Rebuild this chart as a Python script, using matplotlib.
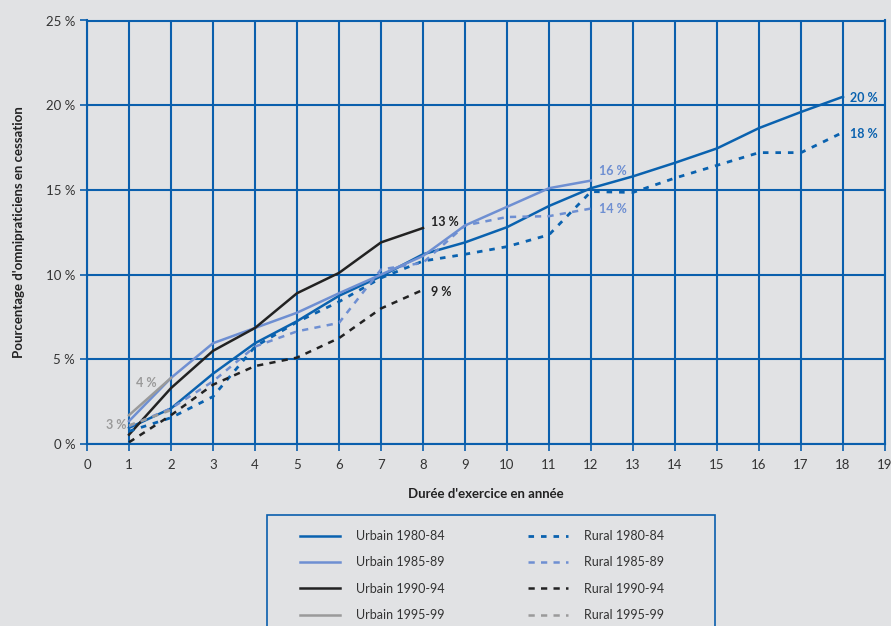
import matplotlib.pyplot as plt
import matplotlib
from matplotlib.patches import Rectangle

# Données (en %)
annees_8084 = list(range(1, 19))
urbain_8084 = [0.95, 2.1, 4.15, 5.95, 7.25, 8.75, 9.9, 11.2, 11.9, 12.8, 14.05, 15.1, 15.8, 16.6, 17.45, 18.65, 19.6, 20.5]
rural_8084 = [0.75, 1.55, 2.8, 5.75, 7.2, 8.4, 9.8, 10.8, 11.2, 11.65, 12.35, 14.9, 14.85, 15.7, 16.45, 17.2, 17.2, 18.4]

annees_8589 = list(range(1, 13))
urbain_8589 = [1.35, 3.9, 5.95, 6.85, 7.75, 8.9, 10.0, 11.1, 12.9, 14.0, 15.1, 15.55]
rural_8589 = [1.05, 2.1, 3.7, 5.75, 6.65, 7.15, 10.3, 10.7, 12.9, 13.4, 13.45, 13.9]

annees_9094 = list(range(1, 9))
urbain_9094 = [0.55, 3.3, 5.5, 6.85, 8.9, 10.1, 11.9, 12.75]
rural_9094 = [0.1, 1.7, 3.5, 4.6, 5.1, 6.25, 8.0, 9.1]

annees_9599 = [1, 2]
urbain_9599 = [1.7, 3.9]
rural_9599 = [1.1, 2.0]

c_8084 = '#0A62AF'
c_8589 = '#6E8FD2'
c_9094 = '#222222'
c_9599 = '#9A9A9A'
bg = '#E1E2E4'
grille = '#0A5FAD'

matplotlib.rcParams['font.family'] = ['Lato', 'DejaVu Sans']

fig = plt.figure(figsize=(8.91, 6.26), dpi=100, facecolor=bg)
ax = fig.add_axes([87 / 891, 1 - 444 / 626, 798 / 891, 423.5 / 626])
ax.set_facecolor(bg)

lw = 1.8
l1, = ax.plot(annees_8084, urbain_8084, color=c_8084, lw=lw, label='Urbain 1980-84')
l2, = ax.plot(annees_8589, urbain_8589, color=c_8589, lw=lw, label='Urbain 1985-89')
l3, = ax.plot(annees_9094, urbain_9094, color=c_9094, lw=lw, label='Urbain 1990-94')
l4, = ax.plot(annees_9599, urbain_9599, color=c_9599, lw=lw, label='Urbain 1995-99')
r1, = ax.plot(annees_8084, rural_8084, color=c_8084, lw=2.0, dashes=(2, 2.5), label='Rural 1980-84')
r2, = ax.plot(annees_8589, rural_8589, color=c_8589, lw=lw, dashes=(2.5, 2.5), label='Rural 1985-89')
r3, = ax.plot(annees_9094, rural_9094, color=c_9094, lw=lw, dashes=(2.5, 2.5), label='Rural 1990-94')
r4, = ax.plot(annees_9599, rural_9599, color=c_9599, lw=lw, dashes=(2.5, 2.5), label='Rural 1995-99')

# étiquettes de fin de courbe
kw = dict(fontsize=9, fontweight='bold', va='center')
ax.text(18.17, 20.4, '20 %', color=c_8084, **kw)
ax.text(18.17, 18.3, '18 %', color=c_8084, **kw)
ax.text(12.2, 16.1, '16 %', color=c_8589, **kw)
ax.text(12.2, 13.9, '14 %', color=c_8589, **kw)
ax.text(8.2, 13.1, '13 %', color=c_9094, **kw)
ax.text(8.2, 9.0, '9 %', color=c_9094, **kw)
ax.text(1.17, 3.6, '4 %', color=c_9599, **kw)
ax.text(0.45, 1.1, '3 %', color=c_9599, **kw)

ax.set_xlim(0, 19)
ax.set_ylim(0, 25)
ax.set_xticks(range(0, 20))
ax.set_yticks(range(0, 26, 5))
ax.set_yticklabels([f'{v} %' for v in range(0, 26, 5)])
ax.grid(True, color=grille, lw=1.5)
ax.set_axisbelow(True)
for s in ax.spines.values():
    s.set_color(grille)
    s.set_linewidth(1.5)
ax.tick_params(colors=grille, labelcolor='#333333', labelsize=9.5, length=5, width=1.2)
ax.tick_params(axis='x', pad=6)

ax.set_xlabel("Durée d'exercice en année", fontsize=9.5, fontweight='bold', color='#222222', labelpad=12)
ax.set_ylabel("Pourcentage d'omnipraticiens en cessation", fontsize=9.5, fontweight='bold',
              color='#222222', labelpad=15)

# cadre de la légende (coupé en bas comme l'original)
fig.add_artist(Rectangle((267 / 891, -0.05), 448 / 891, 0.05 + 1 - 515 / 626,
                         transform=fig.transFigure, facecolor='none', edgecolor=grille, lw=1.2))

leg_kw = dict(loc='upper left', fontsize=9, handlelength=3.2, handletextpad=1.3,
              labelspacing=1.15, borderpad=0, borderaxespad=0, frameon=False, labelcolor='#333333')
fig.legend(handles=[l1, l2, l3, l4], bbox_to_anchor=(300 / 891, 1 - 530 / 626), **leg_kw)
fig.legend(handles=[r1, r2, r3, r4], bbox_to_anchor=(528 / 891, 1 - 530 / 626), **leg_kw)

plt.savefig('out.png', dpi=100, facecolor=bg)
plt.close()
